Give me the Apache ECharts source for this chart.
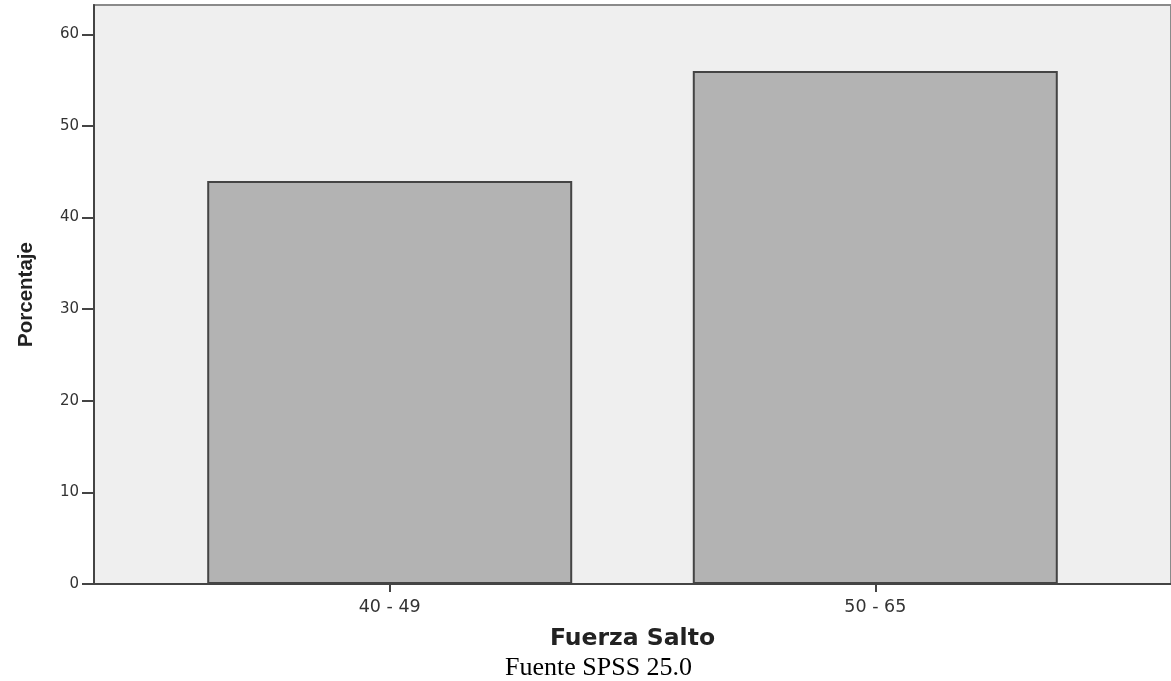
<!DOCTYPE html>
<html><head><meta charset="utf-8">
<script src="https://cdn.jsdelivr.net/npm/echarts@6/dist/echarts.min.js"></script>
<style>html,body{margin:0;padding:0;background:#fff}#c{width:1171px;height:681px}</style>
</head><body><div id="c"></div>
<script>
const categories = ['40 - 49', '50 - 65'];
const percentages = [44, 56];
const yTicks = [0, 10, 20, 30, 40, 50, 60];
const xTitle = 'Fuerza Salto';
const yTitle = 'Porcentaje';
const sourceNote = 'Fuente SPSS 25.0';

const chart = echarts.init(document.getElementById('c'), null, {renderer: 'canvas'});
const catIdx = categories.map((c, i) => i);
chart.setOption({
  animation: false,
  backgroundColor: '#ffffff',
  title: {
    text: sourceNote, left: 505, top: 655, padding: 0,
    textStyle: {fontFamily: 'Liberation Serif', fontWeight: 'normal', fontSize: 26, color: '#000'}
  },
  grid: {left: 94, top: 5, right: -3, bottom: 97, show: true, backgroundColor: '#efefef', borderColor: '#8a8a8a', borderWidth: 2},
  xAxis: {
    type: 'value', min: -0.609, max: 1.609,
    name: xTitle, nameLocation: 'middle', nameGap: 43,
    nameTextStyle: {fontFamily: 'DejaVu Sans', fontWeight: 'bold', fontSize: 23.5, color: '#222'},
    axisLine: {show: true, onZero: false, lineStyle: {color: '#444', width: 2}},
    axisTick: {show: true, length: 8, customValues: catIdx, lineStyle: {color: '#444', width: 2}},
    axisLabel: {customValues: catIdx, formatter: v => categories[Math.round(v)] || '', fontFamily: 'DejaVu Sans', fontSize: 17.5, color: '#333', margin: 14},
    splitLine: {show: false}
  },
  yAxis: {
    type: 'value', min: 0, max: 63.2,
    name: yTitle, nameLocation: 'middle', nameGap: 57,
    nameTextStyle: {fontFamily: 'Liberation Sans', fontWeight: 'bold', fontSize: 20.5, color: '#222'},
    axisLine: {show: true, onZero: false, lineStyle: {color: '#444', width: 2}},
    axisTick: {show: true, length: 12, customValues: yTicks, lineStyle: {color: '#444', width: 2}},
    axisLabel: {customValues: yTicks, fontFamily: 'DejaVu Sans', fontSize: 15, color: '#333', margin: 15},
    splitLine: {show: false}
  },
  series: [{
    type: 'bar',
    data: percentages.map((v, i) => [i, v]),
    barWidth: 365,
    itemStyle: {color: '#b3b3b3', borderColor: '#444', borderWidth: 2}
  }]
});
</script></body></html>
